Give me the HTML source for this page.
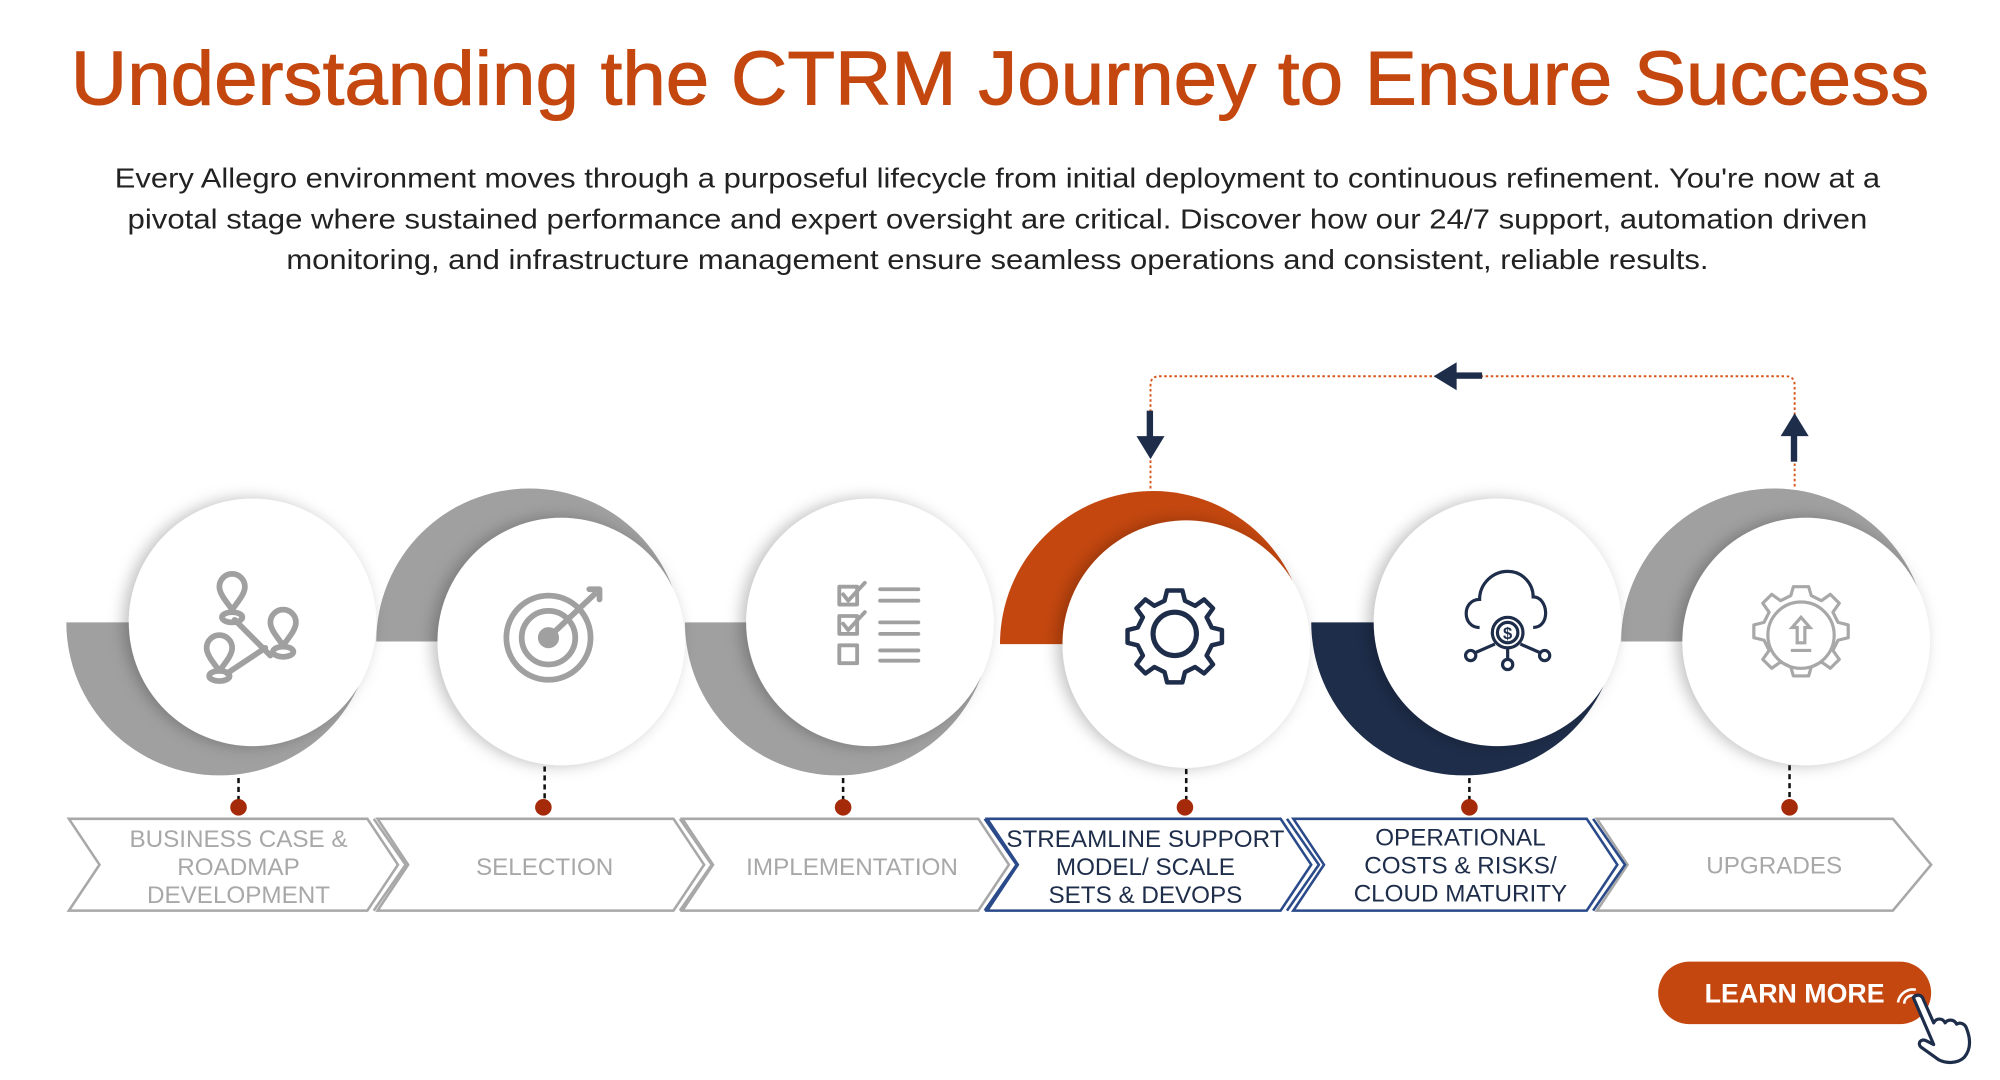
<!DOCTYPE html>
<html><head><meta charset="utf-8"><style>
html,body{margin:0;padding:0;background:#fff;width:2000px;height:1080px;overflow:hidden}
svg{display:block}
text{font-family:"Liberation Sans",sans-serif}
</style></head><body>
<svg width="2000" height="1080" viewBox="0 0 1568 846.8" preserveAspectRatio="none" xmlns="http://www.w3.org/2000/svg">
<defs>
<filter id="sh" x="-30%" y="-30%" width="160%" height="160%"><feDropShadow dx="-4" dy="0" stdDeviation="6" flood-color="#000" flood-opacity="0.25"/></filter>
</defs>
<text x="784" y="82" text-anchor="middle" font-size="60" fill="#c4470f" stroke="#c4470f" stroke-width="0.8" textLength="1457" lengthAdjust="spacingAndGlyphs">Understanding the CTRM Journey to Ensure Success</text>
<g font-size="22" fill="#222" text-anchor="middle">
<text x="782" y="147" textLength="1384" lengthAdjust="spacingAndGlyphs">Every Allegro environment moves through a purposeful lifecycle from initial deployment to continuous refinement. You're now at a</text>
<text x="782" y="179" textLength="1364" lengthAdjust="spacingAndGlyphs">pivotal stage where sustained performance and expert oversight are critical. Discover how our 24/7 support, automation driven</text>
<text x="782" y="211" textLength="1115" lengthAdjust="spacingAndGlyphs">monitoring, and infrastructure management ensure seamless operations and consistent, reliable results.</text>
</g>
<path d="M902 383 V302 Q902 295 909 295 H1400 Q1407 295 1407 302 V383" fill="none" stroke="#d8561a" stroke-width="1.5" stroke-dasharray="2 2"/>
<rect x="899" y="322" width="5" height="22" fill="#1e2d4a"/><polygon points="891,342 913,342 902,360" fill="#1e2d4a"/>
<rect x="1140" y="292" width="22" height="5" fill="#1e2d4a"/><polygon points="1142,284 1142,306 1124,295" fill="#1e2d4a"/>
<rect x="1404" y="340" width="5" height="22" fill="#1e2d4a"/><polygon points="1396,342 1418,342 1407,324" fill="#1e2d4a"/>
<path d="M52 488 A120 120 0 0 0 292 488 Z" fill="#a0a0a0"/>
<path d="M295 503 A120 120 0 0 1 535 503 Z" fill="#a0a0a0"/>
<path d="M537 488 A120 120 0 0 0 777 488 Z" fill="#a0a0a0"/>
<path d="M784 505 A120 120 0 0 1 1024 505 Z" fill="#c4470f"/>
<path d="M1028 488 A120 120 0 0 0 1268 488 Z" fill="#1e2d4a"/>
<path d="M1271 503 A120 120 0 0 1 1511 503 Z" fill="#a0a0a0"/>
<g fill="#fff" filter="url(#sh)">
<circle cx="198" cy="488" r="97"/><circle cx="440" cy="503" r="97"/><circle cx="682" cy="488" r="97"/>
<circle cx="930" cy="505" r="97"/><circle cx="1174" cy="488" r="97"/><circle cx="1416" cy="503" r="97"/>
</g>
<g fill="none" stroke="#a0a0a0" stroke-width="4.5" stroke-linecap="round" stroke-linejoin="round">
<path d="M184 486 L212 514 M178 528 L208 508"/>
<path d="M182 478 c-6-8-10-13-10-18 a10 10 0 0 1 20 0 c0 5-4 10-10 18z"/>
<ellipse cx="182" cy="484" rx="8" ry="4"/>
<path d="M222 506 c-6-8-10-13-10-18 a10 10 0 0 1 20 0 c0 5-4 10-10 18z"/>
<ellipse cx="222" cy="511" rx="8" ry="4"/>
<path d="M172 526 c-6-8-10-13-10-18 a10 10 0 0 1 20 0 c0 5-4 10-10 18z"/>
<ellipse cx="172" cy="530" rx="8" ry="4"/>
<circle cx="430" cy="500" r="33"/><circle cx="430" cy="500" r="21"/><circle cx="430" cy="500" r="6" fill="#a0a0a0"/>
<path d="M432 498 L466 466"/><path d="M462 462 l8 0 l0 8"/>
<rect x="658" y="460" width="14" height="14" stroke-width="3"/><rect x="658" y="483" width="14" height="14" stroke-width="3"/><rect x="658" y="506" width="14" height="14" stroke-width="3"/>
<path d="M661 466 l4 5 l13-14 M661 489 l4 5 l13-14" stroke-width="3"/>
<path d="M690 462 H720 M690 471 H720 M690 488 H720 M690 497 H720 M690 510 H720 M690 518 H720" stroke-width="3"/>
</g>
<g fill="none" stroke="#1e2d4a" stroke-width="4">
<circle cx="921" cy="497" r="17"/>
<path d="M921 463 l6 0 l2 8 l8 4 l7-5 l7 7 l-5 7 l4 8 l8 2 l0 10 l-8 2 l-4 8 l5 7 l-7 7 l-7-5 l-8 4 l-2 8 l-12 0 l-2-8 l-8-4 l-7 5 l-7-7 l5-7 l-4-8 l-8-2 l0-10 l8-2 l4-8 l-5-7 l7-7 l7 5 l8-4 l2-8z" stroke-width="3.5" stroke-linejoin="round"/>
</g>
<g fill="none" stroke="#1e2d4a" stroke-width="2.5">
<path d="M1160 492 c-14 0-14-22 0-22 c0-12 10-22 22-22 c12 0 20 10 20 20 c12 0 14 24 0 24"/>
<circle cx="1182" cy="496" r="12"/><circle cx="1182" cy="496" r="8"/>
<text x="1182" y="501" font-size="13" text-anchor="middle" fill="#1e2d4a" stroke="none" font-weight="bold">$</text>
<path d="M1172 505 L1156 512 M1182 508 V518 M1192 505 L1208 512"/>
<circle cx="1153" cy="514" r="4"/><circle cx="1182" cy="521" r="4"/><circle cx="1211" cy="514" r="4"/>
</g>
<g fill="none" stroke="#a8a8a8" stroke-width="2.5">
<circle cx="1412" cy="498" r="26"/>
<path d="M1412 460 l6 0 l2 7 l8 4 l7-5 l7 7 l-5 7 l4 8 l8 2 l0 10 l-8 2 l-4 8 l5 7 l-7 7 l-7-5 l-8 4 l-2 7 l-12 0 l-2-7 l-8-4 l-7 5 l-7-7 l5-7 l-4-8 l-8-2 l0-10 l8-2 l4-8 l-5-7 l7-7 l7 5 l8-4 l2-7z" stroke-linejoin="round"/>
<path d="M1412 484 l-7 8 h4 v12 h6 v-12 h4 z M1404 510 h16"/>
</g>
<g stroke="#111" stroke-width="2" stroke-dasharray="4 3">
<path d="M187 610 V628"/><path d="M427 601 V628"/><path d="M661 610 V628"/><path d="M930 603 V628"/><path d="M1152 610 V628"/><path d="M1403 600 V628"/>
</g>
<g fill="#a52a0a">
<circle cx="187" cy="633" r="6.5"/><circle cx="426" cy="633" r="6.5"/><circle cx="661" cy="633" r="6.5"/><circle cx="929" cy="633" r="6.5"/><circle cx="1152" cy="633" r="6.5"/><circle cx="1403" cy="633" r="6.5"/>
</g>
<g fill="#fff" stroke-width="2">
<g stroke="#a8a8a8">
<polygon points="54,642 288,642 312,678 288,714 54,714 78,678"/><polyline fill="none" points="293,642 318,678 293,714"/>
<polygon points="296,642 528,642 552,678 528,714 296,714 320,678"/><polyline fill="none" points="533,642 558,678 533,714"/>
<polygon points="535,642 767,642 791,678 767,714 535,714 559,678"/>
<polygon points="1252,642 1484,642 1514,678 1484,714 1252,714 1276,678"/>
</g>
<g stroke="#2a4a8a">
<polygon points="774,642 1004,642 1028,678 1004,714 774,714 798,678"/><polyline fill="none" points="772,642 797,678 772,714"/><polyline fill="none" points="1009,642 1034,678 1009,714"/>
<polygon points="1014,642 1244,642 1268,678 1244,714 1014,714 1038,678"/><polyline fill="none" points="1249,642 1274,678 1249,714"/>
</g>
</g>
<g font-size="19" text-anchor="middle" fill="#a8a8a8">
<text x="187" y="664">BUSINESS CASE &amp;</text><text x="187" y="686">ROADMAP</text><text x="187" y="708">DEVELOPMENT</text>
<text x="427" y="686">SELECTION</text>
<text x="668" y="686">IMPLEMENTATION</text>
<text x="1391" y="685">UPGRADES</text>
</g>
<g font-size="19" text-anchor="middle" fill="#1e2d4a">
<text x="898" y="664">STREAMLINE SUPPORT</text><text x="898" y="686">MODEL/ SCALE</text><text x="898" y="708">SETS &amp; DEVOPS</text>
<text x="1145" y="663">OPERATIONAL</text><text x="1145" y="685">COSTS &amp; RISKS/</text><text x="1145" y="707">CLOUD MATURITY</text>
</g>
<rect x="1300" y="754" width="214" height="49" rx="24.5" fill="#c4470f"/>
<text x="1407" y="786" font-size="21" font-weight="bold" fill="#fff" text-anchor="middle">LEARN MORE</text>
<path d="M1488 786 a12 12 0 0 1 14 -10 M1493 787 a6 6 0 0 1 8 -6" stroke="#fff" stroke-width="2" fill="none"/>
<path d="M1500 782 c3-3 7-2 8 2 l8 18 c2-4 7-4 9 0 c2-3 7-3 9 1 c3-2 7 0 8 4 c3 8 3 16-2 22 c-5 5-14 5-20 2 l-14-10 c-3-3 0-7 4-5 l6 3 z" fill="#fff" stroke="#1e2d4a" stroke-width="2.5" stroke-linejoin="round"/>
</svg>
</body></html>
